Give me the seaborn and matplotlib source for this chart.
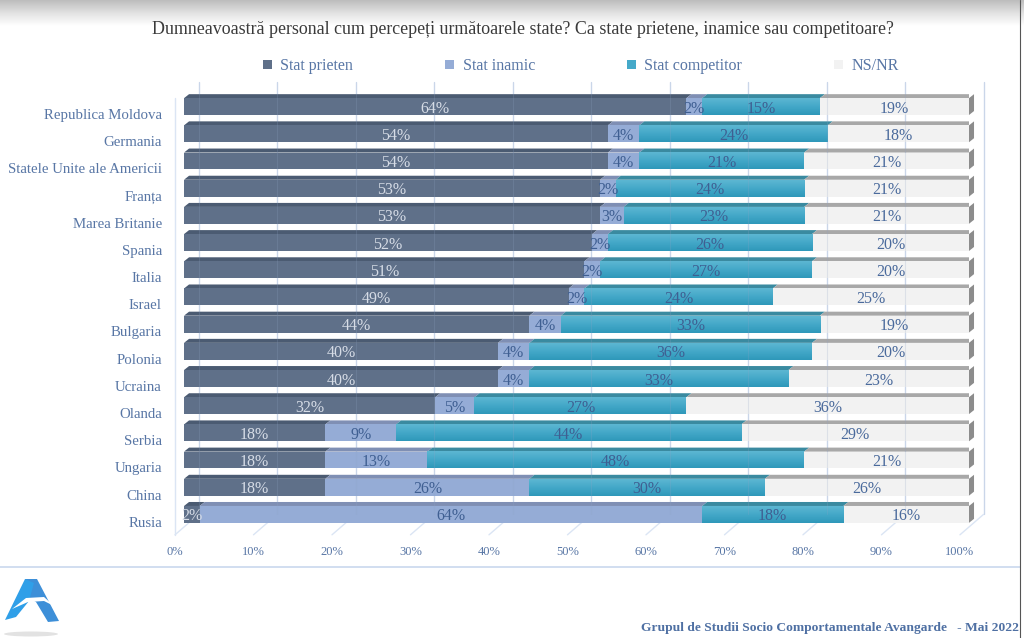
import numpy as np
import pandas as pd
import matplotlib
matplotlib.use('Agg')
import matplotlib.pyplot as plt
from matplotlib.patches import Polygon, Ellipse
from matplotlib.colors import LinearSegmentedColormap
import seaborn as sns

# date
state = ['Republica Moldova', 'Germania', 'Statele Unite ale Americii', 'Franța',
         'Marea Britanie', 'Spania', 'Italia', 'Israel', 'Bulgaria', 'Polonia',
         'Ucraina', 'Olanda', 'Serbia', 'Ungaria', 'China', 'Rusia']
prieten = [64, 54, 54, 53, 53, 52, 51, 49, 44, 40, 40, 32, 18, 18, 18, 2]
inamic = [2, 4, 4, 2, 3, 2, 2, 2, 4, 4, 4, 5, 9, 13, 26, 64]
competitor = [15, 24, 21, 24, 23, 26, 27, 24, 33, 36, 33, 27, 44, 48, 30, 18]
nsnr = [19, 18, 21, 21, 21, 20, 20, 25, 19, 20, 23, 36, 29, 21, 26, 16]
procente = [0, 10, 20, 30, 40, 50, 60, 70, 80, 90, 100]

titlu = 'Dumneavoastră personal cum percepeți următoarele state? Ca state prietene, inamice sau competitoare?'
subsol = 'Grupul de Studii Socio Comportamentale Avangarde   - Mai 2022'

sns.set_theme(style='white')
plt.rcParams['font.family'] = ['Liberation Serif', 'DejaVu Serif']

BLUE_TEXT = '#5876a5'
GRID = '#dbe5f4'

fig = plt.figure(figsize=(10.24, 6.38), dpi=100, facecolor='white')

# strat de fundal in pixeli: banda de sus, linii, sigla, titlu
bg = fig.add_axes([0, 0, 1, 1], zorder=0)
grey = LinearSegmentedColormap.from_list('g', ['#bdbdbd', '#e2e2e2', '#ffffff'])
bg.imshow(np.linspace(0, 1, 40).reshape(-1, 1), cmap=grey, extent=(0, 1024, 26, 0), aspect='auto')
bg.set_xlim(0, 1024)
bg.set_ylim(638, 0)
bg.axis('off')
bg.plot([0, 1020], [567, 567], color='#c9d8ee', lw=1.2)
bg.plot([1019.5, 1019.5], [0, 638], color='#555555', lw=0.8)
bg.text(523, 29, titlu, ha='center', va='center', fontsize=12.9, color='#3a3a3a')
bg.text(1019, 628, subsol, ha='right', va='center', fontsize=9.7, color='#4f70a3', fontweight='bold')

# sigla
bg.add_patch(Ellipse((31, 634), 54, 5, color='#e2e2e2', lw=0))
bg.add_patch(Polygon([[25, 579], [37, 579], [59, 621], [48, 622], [36, 602], [28, 597]], color='#3d8fd8', lw=0))
bg.add_patch(Polygon([[25, 579], [34, 583], [29, 601], [16, 617], [5, 620]], color='#2f9fe8', lw=0))
bg.add_patch(Polygon([[12, 609], [26, 598], [44, 597], [54, 606], [44, 601], [28, 602]], color='#ffffff', lw=0))

FRONT = -1.15
BACK = 1.85
Y_SUS = -0.9
Y_JOS = 15.0
Y_FATA = 15.75

# axa incepe la eticheta 0%, care sta la stanga barelor
ax = fig.add_axes([175 / 1024, 1 - 528 / 638, 794 / 1024, 435 / 638], zorder=1)
ax.patch.set_alpha(0)

df = pd.DataFrame({'stat': state, 'Stat prieten': prieten, 'Stat inamic': inamic,
                   'Stat competitor': competitor, 'NS/NR': nsnr})
serii = ['Stat prieten', 'Stat inamic', 'Stat competitor', 'NS/NR']
culori = ['#5f7089', '#95acd6', '#45a9c9', '#f2f2f2']
culori_sus = ['#4b5b72', '#7f8fb4', '#3a8aa0', '#a8a8a8']
culori_text = ['#d6dce6', '#3f5f92', '#3f5f92', '#4a6a9c']

DX = 0.64
DY = 0.147

left = np.zeros(len(df))
for nume, c, c_sus in zip(serii, culori, culori_sus):
    sns.barplot(data=df, y='stat', x=nume, left=left, color=c, saturation=1, width=0.62,
                orient='h', label=nume, ax=ax, zorder=2, linewidth=0)
    cont = ax.containers[-1]
    for p in cont:
        x0, y0, w = p.get_x(), p.get_y(), p.get_width()
        ax.add_patch(Polygon([[x0, y0], [x0 + w, y0], [x0 + w + DX, y0 - DY], [x0 + DX, y0 - DY]],
                             color=c_sus, lw=0, zorder=1.9))
    left = left + df[nume].to_numpy()

# degrade pe Stat competitor
teal = LinearSegmentedColormap.from_list('t', ['#5cb6d2', '#43a8c8', '#2f98ba'])
for p in ax.containers[2]:
    ax.imshow(np.linspace(0, 1, 20).reshape(-1, 1), cmap=teal, aspect='auto', zorder=2.1,
              extent=(p.get_x(), p.get_x() + p.get_width(), p.get_y() + p.get_height(), p.get_y()))

# capatul din dreapta
for p in ax.containers[3]:
    x1, y0, h = p.get_x() + p.get_width(), p.get_y(), p.get_height()
    ax.add_patch(Polygon([[x1, y0], [x1 + DX, y0 - DY], [x1 + DX, y0 + h - DY], [x1, y0 + h]],
                         color='#8c8c8c', lw=0, zorder=2.2, clip_on=False))

for cont, vals, c_text in zip(ax.containers, [prieten, inamic, competitor, nsnr], culori_text):
    etichete = ax.bar_label(cont, labels=[f'{v}%' for v in vals], label_type='center', color=c_text,
                            fontsize=11.5, zorder=4)
    for e in etichete:
        e.xyann = (0, -1.5)

# grila 3D: peretele din spate si podeaua
for v in procente:
    ax.plot([v + BACK, v + BACK], [Y_SUS, Y_JOS], color=GRID, lw=1, zorder=1, clip_on=False)
    ax.plot([v + BACK, v + BACK], [Y_SUS, Y_JOS], color='#8fa3c4', lw=0.8, alpha=0.22, zorder=2.3, clip_on=False)
    ax.plot([v + FRONT, v + BACK], [Y_FATA, Y_JOS], color=GRID, lw=1, zorder=1, clip_on=False)
ax.plot([FRONT, FRONT], [-0.3, Y_FATA], color=GRID, lw=1, zorder=1, clip_on=False)

sns.despine(ax=ax, left=True, bottom=True)
ax.set_xlabel('')
ax.set_ylabel('')
ax.set_xticks([v + FRONT for v in procente], [f'{v}%' for v in procente])
ax.set_yticks(np.arange(len(state)) + 0.27, state)
ax.tick_params(axis='x', length=0, pad=13, labelsize=9, labelcolor=BLUE_TEXT)
ax.tick_params(axis='y', length=0, pad=9.4, labelsize=10.7, labelcolor=BLUE_TEXT)
ax.grid(False)
# set_xticks largeste limitele, deci limitele vin la final
ax.set_xlim(FRONT, 100)
ax.set_ylim(15.5, -0.5)

hand, lab = ax.get_legend_handles_labels()
ax.get_legend().remove()
fig.legend(hand, lab, ncol=4, loc='center', bbox_to_anchor=(581 / 1024, 1 - 66 / 638), frameon=False,
           fontsize=11.5, labelcolor=BLUE_TEXT, handlelength=0.55, handleheight=0.55, handletextpad=0.55,
           columnspacing=5.75)

fig.savefig('out.png', dpi=100)
